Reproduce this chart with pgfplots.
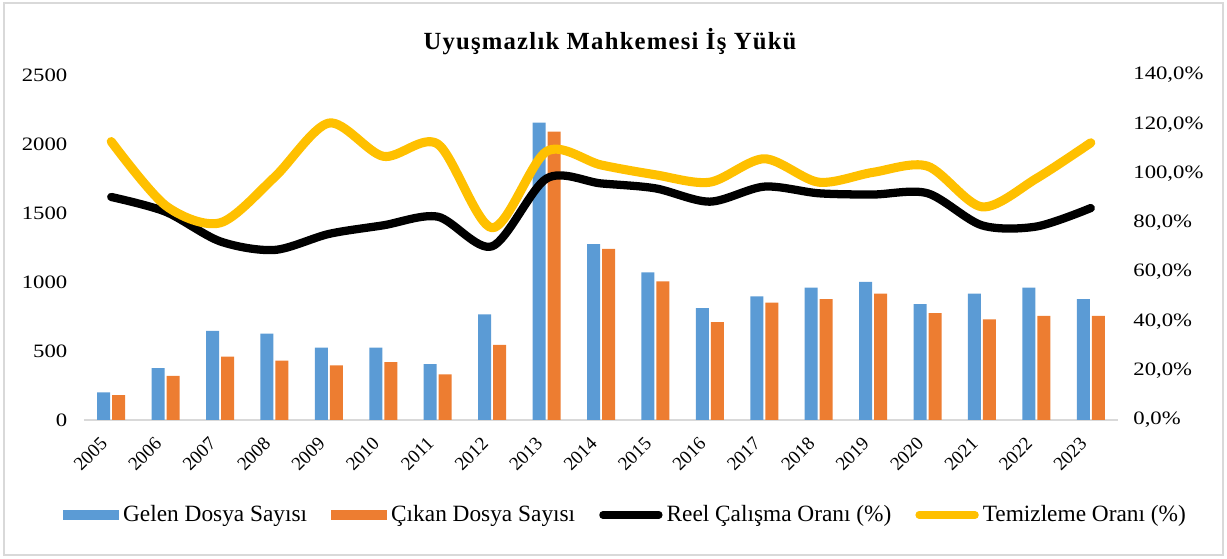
\documentclass[border=0pt]{standalone}
\usepackage{pgfplots}
\pgfplotsset{compat=1.18}
\usepackage{fontspec}
\setmainfont{Liberation Serif}
\newfontfamily\ytickfont{Liberation Serif}[FakeStretch=1.2]
\newfontfamily\titlefont{Liberation Serif}[LetterSpace=5]
\definecolor{cblue}{HTML}{5B9BD5}
\definecolor{corange}{HTML}{ED7D31}
\definecolor{cyellow}{HTML}{FFC000}
\definecolor{cgrid}{HTML}{D9D9D9}

\pgfplotstableread{
x gelen cikan
0 200 180
1 375 320
2 645 460
3 625 430
4 525 395
5 525 420
6 405 330
7 765 545
8 2155 2090
9 1275 1240
10 1070 1005
11 810 710
12 895 850
13 960 875
14 1000 915
15 840 775
16 915 730
17 960 755
18 875 755
}\bars

\pgfplotstableread{
x reel temiz
0 90.5 113
1 84.5 87
2 72.5 80
3 69 98.5
4 75.5 120.5
5 79 107
6 82.5 112
7 70.5 78
8 98 109
9 96 103.5
10 94 99.5
11 88.6 96.5
12 94.7 106
13 92 96.5
14 91.5 100.5
15 92 103
16 79 86.5
17 78.5 98
18 86 112.5
}\lines

\begin{document}
\begin{tikzpicture}[x=1pt,y=1pt]
\path[use as bounding box] (0,0) rectangle (920.25,419.25);
\draw[cgrid, line width=1.5pt] (3,3) rectangle (917.25,417);
\node[font=\titlefont\bfseries\fontsize{18.5}{22}\selectfont] at (457.5,387.75) {Uyuşmazlık Mahkemesi İş Yükü};

\begin{axis}[
  at={(63pt,104.25pt)}, anchor=south west,
  scale only axis, width=775.5pt, height=258.75pt,
  xmin=-0.5, xmax=18.5, ymin=0, ymax=2500,
  ytick={0,500,...,2500},
  xtick={0,...,18},
  xticklabels={2005,2006,2007,2008,2009,2010,2011,2012,2013,2014,2015,2016,2017,2018,2019,2020,2021,2022,2023},
  axis x line*=bottom, axis y line*=left,
  x axis line style={draw=cgrid, line width=1.5pt, -},
  y axis line style={draw=none},
  major tick length=0pt,
  ybar=1.5pt, bar width=9.75pt,
  /pgf/number format/assume math mode=true,
  /pgf/number format/1000 sep={},
  yticklabel style={font=\ytickfont\fontsize{14.2}{16}\selectfont, xshift=-9pt},
  xticklabel style={font=\fontsize{14.2}{16}\selectfont, xshift=-3pt, yshift=-13pt, rotate=45, anchor=east},
]
\addplot[fill=cblue, draw=none] table[x=x, y=gelen] {\bars};
\addplot[fill=corange, draw=none] table[x=x, y=cikan] {\bars};
\end{axis}

\begin{axis}[
  at={(63pt,104.25pt)}, anchor=south west,
  scale only axis, width=775.5pt, height=258.75pt,
  xmin=-0.5, xmax=18.5, ymin=0, ymax=140,
  ytick={0,20,...,140},
  axis x line=none, axis y line*=right,
  y axis line style={draw=none},
  major tick length=0pt,
  /pgf/number format/assume math mode=true,
  yticklabel={\pgfmathprintnumber[fixed,fixed zerofill,precision=1,use comma]{\tick}\%},
  yticklabel style={font=\ytickfont\fontsize{14.2}{16}\selectfont, xshift=8pt},
  legend columns=4,
  legend cell align=left,
  legend style={at={(0.524,-0.275)}, anchor=center, draw=none, fill=none,
    font=\fontsize{17.5}{20}\selectfont,
    /tikz/every even column/.append style={column sep=16pt},
    /tikz/every odd column/.append style={column sep=1pt}},
]
\addlegendimage{fill=cblue, draw=none, legend image code/.code={\fill[cblue] (0pt,-3.5pt) rectangle (42pt,3.5pt);}}
\addlegendentry{Gelen Dosya Sayısı}
\addlegendimage{fill=corange, draw=none, legend image code/.code={\fill[corange] (0pt,-3.5pt) rectangle (42pt,3.5pt);}}
\addlegendentry{Çıkan Dosya Sayısı}
\addplot[black, line width=6.2pt, smooth, line cap=round, line join=round,
  legend image code/.code={\draw[black, line width=5.5pt, line cap=round] (0pt,0pt) -- (42pt,0pt);}]
  table[x=x, y=reel] {\lines};
\addlegendentry{Reel Çalışma Oranı (\%)}
\addplot[cyellow, line width=6.8pt, smooth, line cap=round, line join=round,
  legend image code/.code={\draw[cyellow, line width=5.5pt, line cap=round] (0pt,0pt) -- (42pt,0pt);}]
  table[x=x, y=temiz] {\lines};
\addlegendentry{Temizleme Oranı (\%)}
\end{axis}
\end{tikzpicture}
\end{document}
